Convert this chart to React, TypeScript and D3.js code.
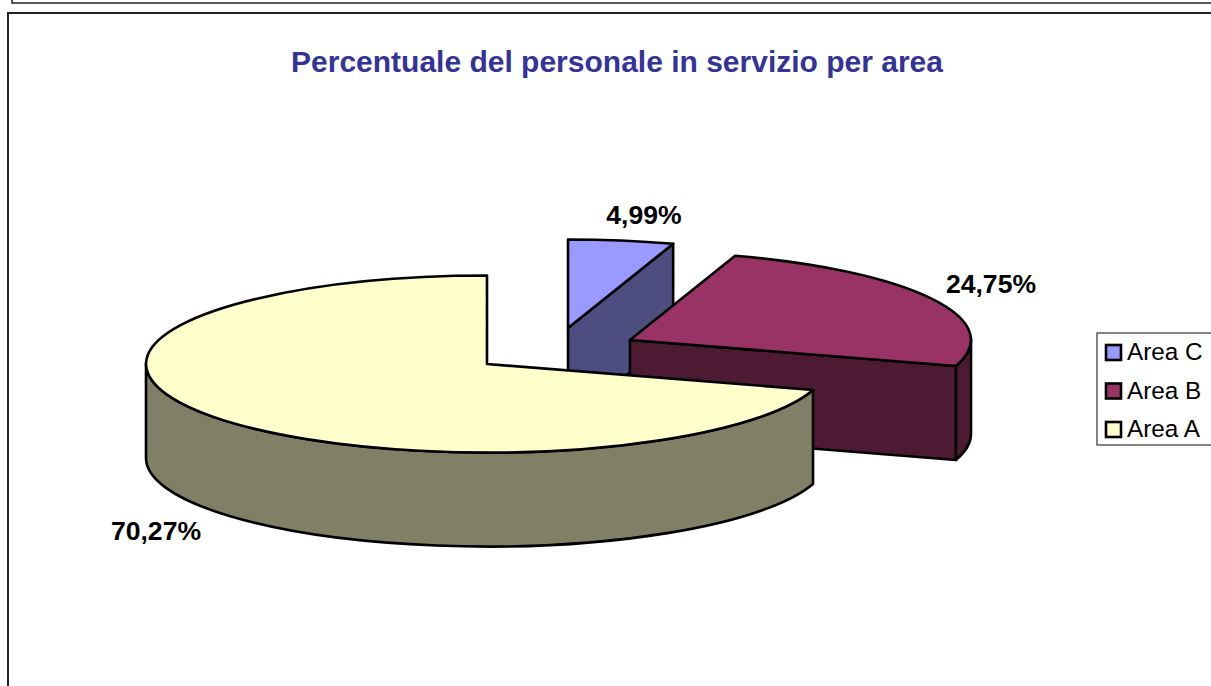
import React from "react";
import * as d3 from "d3";

const categories = ["Area C", "Area B", "Area A"];
const values = [4.99, 24.75, 70.27];
const valueLabels = ["4,99%", "24,75%", "70,27%"];
const topColors = ["#9999FF", "#993366", "#FFFFCC"];
const sideColors = ["#4D4D80", "#4D1A33", "#808066"];
const chartTitle = "Percentuale del personale in servizio per area";

// layout of the tilted pie
const cx = 487, cy = 364, rx = 341, ry = 88.5, depth = 94;
const explode = [[81, -36], [143, -24], [0, 0]];
const labelPos = [[644, 224], [991, 293], [156, 540]];
const FONT = "'Liberation Sans', Arial, sans-serif";

const pieGen = d3.pie<number>().sort(null).startAngle(0).endAngle(2 * Math.PI);
const slices = pieGen(values);

export default function App() {
  const marks = slices.map((s, i) => {
    const ox = cx + explode[i][0];
    const oy = cy + explode[i][1];
    const P = (t: number, dy = 0): [number, number] => [ox + rx * Math.sin(t), oy - ry * Math.cos(t) + dy];
    const arcTo = (a: number, b: number, dy = 0) => {
      const p = P(b, dy);
      const large = Math.abs(b - a) > Math.PI ? 1 : 0;
      const sweep = b > a ? 1 : 0;
      return `A${rx},${ry} 0 ${large} ${sweep} ${p[0]},${p[1]}`;
    };
    const a0 = s.startAngle, a1 = s.endAngle;
    const top = `M${ox},${oy}L${P(a0).join(",")}${arcTo(a0, a1)}Z`;
    // outer wall: front half of the rim only
    const w0 = Math.max(a0, Math.PI / 2), w1 = Math.min(a1, 1.5 * Math.PI);
    const wall = w1 > w0
      ? `M${P(w0).join(",")}${arcTo(w0, w1)}L${P(w1, depth).join(",")}${arcTo(w1, w0, depth)}Z`
      : null;
    // cut faces visible to the viewer
    const faces: string[] = [];
    const cutEnd = a1 < Math.PI ? a1 : null;
    if (cutEnd !== null) {
      const p = P(cutEnd);
      faces.push(`M${ox},${oy}L${p[0]},${p[1]}L${p[0]},${p[1] + depth}L${ox},${oy + depth}Z`);
    }
    return { top, wall, faces, i };
  });

  const lx = 1097, ly = 333, lh = 38.5;
  return (
    <svg width={1211} height={686} style={{ position: "absolute", left: 0, top: 0, background: "#fff" }}>
      <rect x={12} y={-20} width={1300} height={23} fill="none" stroke="#222" strokeWidth={1.5} />
      <rect x={8} y={13} width={1300} height={700} fill="none" stroke="#222" strokeWidth={2} />
      <text x={617} y={72} textAnchor="middle" fontFamily={FONT} fontWeight="bold" fontSize={30} fill="#333399">{chartTitle}</text>
      {marks.map(m => (
        <g key={m.i} stroke="#000" strokeWidth={2.6} strokeLinejoin="round">
          {m.faces.map((f, k) => <path key={k} d={f} fill={sideColors[m.i]} />)}
          {m.wall && <path d={m.wall} fill={sideColors[m.i]} />}
          <path d={m.top} fill={topColors[m.i]} />
        </g>
      ))}
      {valueLabels.map((t, i) => (
        <text key={t} x={labelPos[i][0]} y={labelPos[i][1]} textAnchor="middle" fontFamily={FONT} fontWeight="bold" fontSize={26.6} fill="#000">{t}</text>
      ))}
      <rect x={lx} y={ly} width={200} height={112} fill="#fff" stroke="#333" strokeWidth={1.2} />
      {categories.map((c, i) => (
        <g key={c}>
          <rect x={1106} y={ly + 13 + i * lh - 1} width={15} height={15} fill={topColors[i]} stroke="#000" strokeWidth={2.6} />
          <text x={1127} y={ly + 27 + i * lh} fontFamily={FONT} fontSize={24.3} fill="#000">{c}</text>
        </g>
      ))}
    </svg>
  );
}
